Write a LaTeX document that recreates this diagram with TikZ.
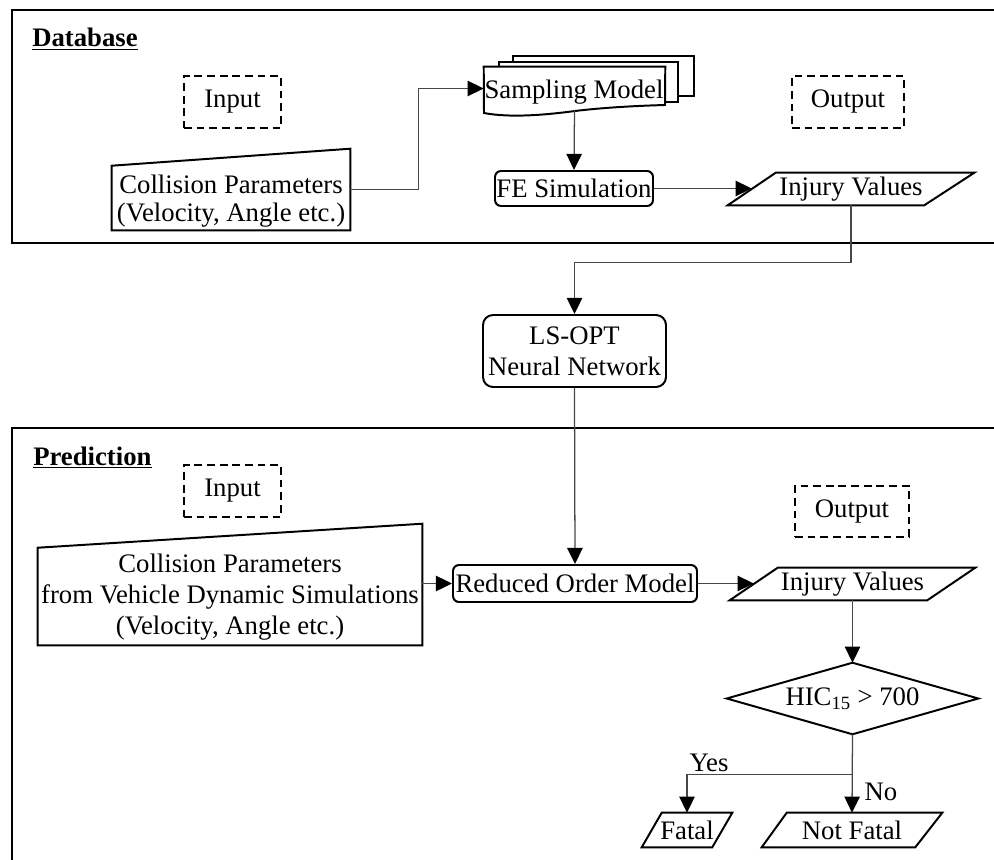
\documentclass[tikz,border=0pt]{standalone}
\usepackage{fontspec}
\setmainfont{Liberation Serif}
\usetikzlibrary{arrows.meta,calc}
\begin{document}
\begin{tikzpicture}[x=0.025cm,y=-0.025cm,
  every node/.style={font=\fontsize{19}{22}\selectfont, inner sep=0pt},
  bb/.style n args={4}{minimum width={(#3-#1)*0.025cm}, minimum height={(#4-#2)*0.025cm}, at={({(#1+#3)/2},{(#2+#4)/2})}},
  frameline/.style={line width=1.9pt},
  boxline/.style={line width=1.4pt, line join=miter},
  roundbox/.style={draw, line width=1.4pt, rounded corners=0.15cm},
  dashbox/.style={draw, line width=1.2pt, dash pattern=on 5.5pt off 3.5pt},
  conn/.style={line width=0.9pt, draw=black!72},
  arr/.style={conn, -{Triangle[length=11.5pt,width=11pt,color=black]}},
  title/.style={font=\fontsize{19}{22}\selectfont\bfseries, anchor=base west},
]
\useasboundingbox (0,0) rectangle (994,860);

% frames
\draw[frameline] (994,10) -- (12,10) -- (12,243) -- (994,243);
\draw[frameline] (12,860) -- (12,428) -- (994,428);

% titles
\node[title] (dbt) at (32,47) {\underline{Database}};
\node[title] (prt) at (33,465) {\underline{Prediction}};

% ---------- Database ----------
\node[dashbox, bb={184}{76}{281}{128}] (in1) {Input};
\node[dashbox, bb={792}{76}{904}{128}] (out1) {Output};

\node[bb={112}{149}{350}{230}] (cp1) {};
\draw[boxline] (cp1.south west) -- (cp1.south east) -- (cp1.north east) -- ($(cp1.north west)+(0,17)$) -- cycle;
\node[align=center, font=\fontsize{19}{20}\selectfont] (cp1t) at (231,201) {Collision Parameters\\(Velocity, Angle etc.)};

\draw[boxline, fill=white] (513,56) rectangle (694,96);
\draw[boxline, fill=white] (499,62) rectangle (678,102);
\node[bb={484}{67}{665}{110}] (sm) {};
\draw[boxline, fill=white] (sm.north west) -- (sm.north east) -- (665,105)
  .. controls (630,106) and (600,108) .. (575,111)
  .. controls (545,115) and (510,118) .. (484,113) -- cycle;
\node (smt) at (574,92) {Sampling Model};

\node[roundbox, bb={495}{171}{653}{206}] (fe) {FE Simulation};

\node[bb={728}{173}{974}{205}] (iv1) {Injury Values};
\draw[boxline] (iv1.south west) -- ($(iv1.south east)+(-50,0)$) -- (iv1.north east) -- ($(iv1.north west)+(48,0)$) -- cycle;
\coordinate (iv1L) at ($(iv1.west)+(24,0)$);

\draw[arr] (cp1.east) -- ++(68,0) |- (sm.west);
\draw[arr] (sm.south) -- (fe.north);
\draw[arr] (fe.east) -- (fe.east -| iv1L);

% ---------- middle ----------
\node[roundbox, rounded corners=0.25cm, bb={483}{315}{666}{387}, align=center] (ls) {LS-OPT\\Neural Network};
\draw[arr] (iv1.south) -- ++(0,57) -| (ls.north);

% ---------- Prediction ----------
\node[dashbox, bb={184}{465}{281}{517}] (in2) {Input};
\node[dashbox, bb={795}{486}{909}{537}] (out2) {Output};

\node[bb={38}{524}{422}{645}] (cp2) {};
\draw[boxline] (cp2.south west) -- (cp2.south east) -- (cp2.north east) -- ($(cp2.north west)+(0,24)$) -- cycle;
\node[align=center] (cp2t) at (230,597) {Collision Parameters\\from Vehicle Dynamic Simulations\\(Velocity, Angle etc.)};

\node[roundbox, bb={453}{565}{697}{602}] (rom) {Reduced Order Model};

\node[bb={730}{568}{975}{600}] (iv2) {Injury Values};
\draw[boxline] (iv2.south west) -- ($(iv2.south east)+(-48,0)$) -- (iv2.north east) -- ($(iv2.north west)+(48,0)$) -- cycle;
\coordinate (iv2L) at ($(iv2.west)+(24,0)$);

\node[bb={727}{663}{978}{734}] (dec) {HIC\textsubscript{15} > 700};
\draw[boxline] (dec.north) -- (dec.east) -- (dec.south) -- (dec.west) -- cycle;

\node[bb={642}{813}{732}{847}] (fat) {Fatal};
\draw[boxline] (fat.south west) -- ($(fat.south east)+(-20,0)$) -- (fat.north east) -- ($(fat.north west)+(20,0)$) -- cycle;

\node[bb={762}{813}{942}{847}] (nf) {Not Fatal};
\draw[boxline] (nf.south west) -- ($(nf.south east)+(-27,0)$) -- (nf.north east) -- ($(nf.north west)+(25,0)$) -- cycle;

\draw[arr] (ls.south) -- (rom.north);
\draw[arr] (rom.west -| cp2.east) -- (rom.west);
\draw[arr] (rom.east) -- (rom.east -| iv2L);
\draw[arr] (iv2.south) -- (dec.north);
\draw[arr] (dec.south) -- (nf.north);
\coordinate (br) at ($(dec.south)+(0,40)$);
\draw[arr] (br) -| (fat.north);

\node (yes) at (709,763) {Yes};
\node (no) at (881,792) {No};
\end{tikzpicture}
\end{document}
